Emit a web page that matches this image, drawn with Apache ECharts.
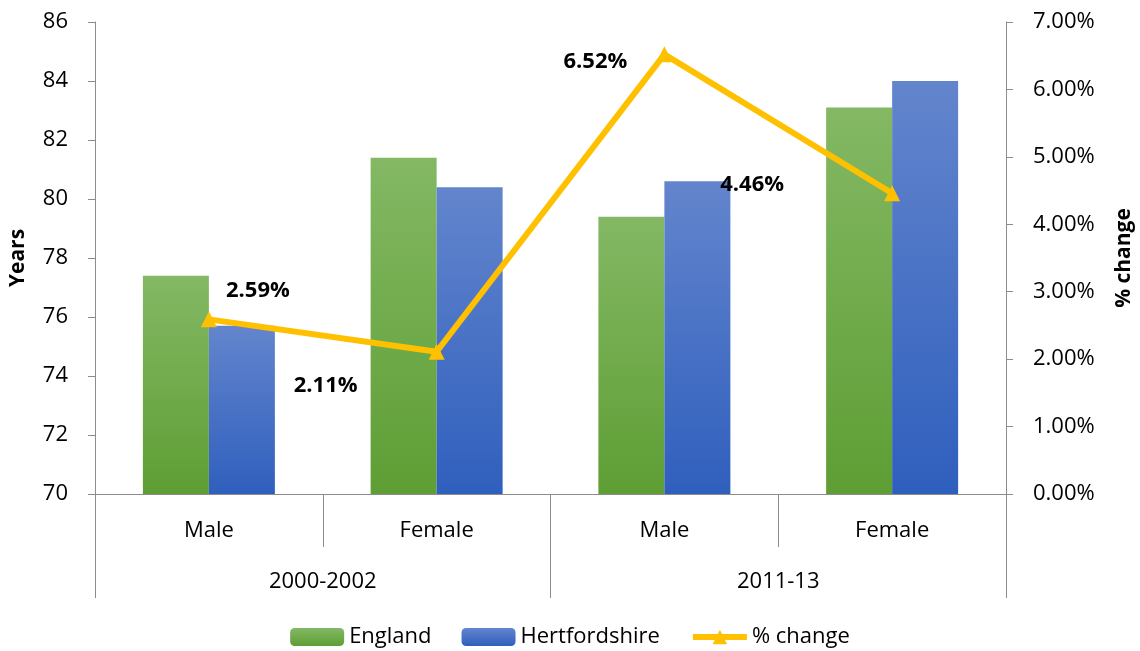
<!DOCTYPE html>
<html>
<head>
<meta charset="utf-8">
<script src="https://cdn.jsdelivr.net/npm/echarts@6/dist/echarts.min.js"></script>
<style>
  html, body { margin: 0; padding: 0; background: #fff; }
  #chart { width: 1140px; height: 651px; }
</style>
</head>
<body>
<div id="chart"></div>
<script>
// data
const sexes = ['Male', 'Female', 'Male', 'Female']
const periods = ['2000-2002', '2011-13']
const england = [77.4, 81.4, 79.4, 83.1]
const hertfordshire = [75.7, 80.4, 80.6, 84.0]
const pctChange = [2.59, 2.11, 6.52, 4.46]

// where each % label sits relative to its point
const labelOffsets = [[49, -29], [-111, 34], [-69, 7], [-140, -9]]

const font = '"Open Sans", "Noto Sans", sans-serif'
const axisGrey = '#8c8c8c'

const myChart = echarts.init(document.getElementById('chart'))

function grad (top, bottom) {
    return new echarts.graphic.LinearGradient(0, 0, 0, 1, [
        { offset: 0, color: top },
        { offset: 1, color: bottom }
    ])
}

const option = {
    animation: false,
    textStyle: { fontFamily: font },
    grid: { left: 95, right: 134, top: 22, bottom: 157, containLabel: false, outerBoundsMode: 'none' },
    legend: {
        top: 621,
        left: 'center',
        itemWidth: 54,
        itemHeight: 18,
        itemGap: 30,
        textStyle: { fontSize: 22, color: '#000', fontFamily: font },
        data: [
            'England',
            'Hertfordshire',
            { name: '% change', lineStyle: { width: 6, color: '#ffc000' } }
        ]
    },
    xAxis: [
        {
            type: 'category',
            data: sexes,
            position: 'bottom',
            axisLine: { show: true, lineStyle: { color: axisGrey, width: 1 } },
            axisTick: { show: true, alignWithLabel: false, interval: 0, length: 53, lineStyle: { color: axisGrey } },
            axisLabel: { fontSize: 22, color: '#000', margin: 26 }
        },
        {
            type: 'category',
            data: periods,
            position: 'bottom',
            axisLine: { show: false },
            axisTick: { show: true, interval: 0, length: 104, lineStyle: { color: axisGrey } },
            axisLabel: { fontSize: 22, color: '#000', margin: 77 }
        }
    ],
    yAxis: [
        {
            type: 'value',
            name: 'Years',
            nameLocation: 'middle',
            nameGap: 66,
            nameTextStyle: { fontSize: 21, fontWeight: 'bold', color: '#000' },
            min: 70,
            max: 86,
            interval: 2,
            axisLine: { show: true, lineStyle: { color: axisGrey } },
            axisTick: { show: true, length: 7, lineStyle: { color: axisGrey } },
            axisLabel: { fontSize: 22, color: '#000', margin: 27 },
            splitLine: { show: false }
        },
        {
            type: 'value',
            name: '% change',
            nameLocation: 'middle',
            nameGap: 108,
            nameRotate: 90,
            nameTextStyle: { fontSize: 21, fontWeight: 'bold', color: '#000' },
            min: 0,
            max: 7,
            interval: 1,
            position: 'right',
            axisLine: { show: true, lineStyle: { color: axisGrey } },
            axisTick: { show: true, length: 7, lineStyle: { color: axisGrey } },
            axisLabel: {
                fontSize: 22, color: '#000', margin: 27,
                formatter: function (v) { return v.toFixed(2) + '%' }
            },
            splitLine: { show: false }
        }
    ],
    series: [
        {
            name: 'England',
            type: 'bar',
            data: england,
            barWidth: 66,
            barGap: '0%',
            itemStyle: { color: grad('#84b864', '#5e9e34') }
        },
        {
            name: 'Hertfordshire',
            type: 'bar',
            data: hertfordshire,
            barWidth: 66,
            barGap: '0%',
            itemStyle: { color: grad('#6385cd', '#2f5fbd') }
        },
        {
            name: '% change',
            type: 'line',
            yAxisIndex: 1,
            data: pctChange.map(function (v, i) {
                return { value: v, label: { offset: labelOffsets[i] } }
            }),
            symbol: 'triangle',
            symbolSize: 16,
            lineStyle: { color: '#ffc000', width: 6 },
            itemStyle: { color: '#ffc000' },
            label: {
                show: true,
                position: 'inside',
                fontSize: 22,
                fontWeight: 'bold',
                color: '#000',
                fontFamily: font,
                formatter: function (p) { return p.value.toFixed(2) + '%' }
            },
            z: 5
        }
    ]
}
option && myChart.setOption(option)
</script>
</body>
</html>
